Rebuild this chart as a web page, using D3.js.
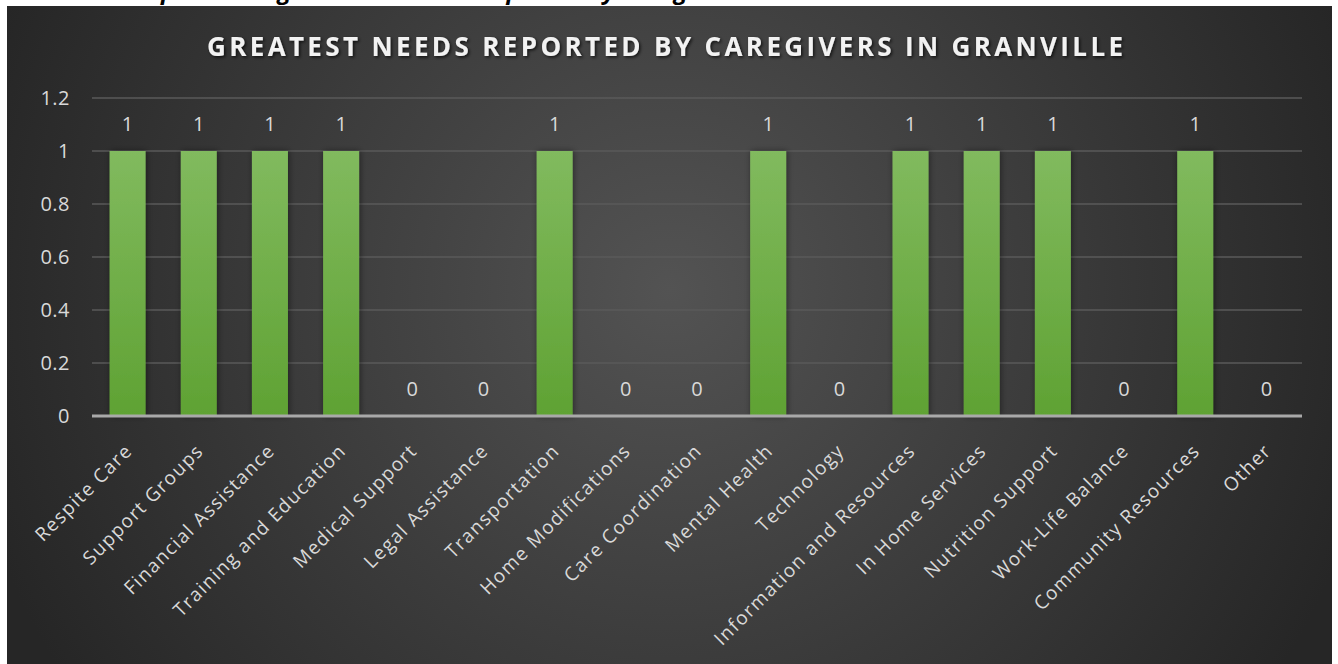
<!DOCTYPE html>
<html>
<head>
<meta charset="utf-8">
<script src="https://cdn.jsdelivr.net/npm/d3@7"></script>
<style>
  html, body { margin: 0; padding: 0; background: #fff; }
  svg { display: block; }
</style>
</head>
<body>
<svg id="chart" width="1338" height="664"></svg>
<script>
var categories = ["Respite Care", "Support Groups", "Financial Assistance", "Training and Education",
    "Medical Support", "Legal Assistance", "Transportation", "Home Modifications", "Care Coordination",
    "Mental Health", "Technology", "Information and Resources", "In Home Services", "Nutrition Support",
    "Work-Life Balance", "Community Resources", "Other"];
var values = [1, 1, 1, 1, 0, 0, 1, 0, 0, 1, 0, 1, 1, 1, 0, 1, 0];
var yTicks = [0, 0.2, 0.4, 0.6, 0.8, 1, 1.2];
var title = "GREATEST NEEDS REPORTED BY CAREGIVERS IN GRANVILLE";
var caption = "Graph Showing Greatest Needs Reported by Caregivers in Granville";

var svg = d3.select("#chart"),
    panel = { x: 7, y: 6, w: 1325, h: 658 },
    margin = { left: 92, right: 1302, top: 98, bottom: 416 },
    font = "'Open Sans', 'Liberation Sans', sans-serif";

var defs = svg.append("defs");

var bg = defs.append("radialGradient")
    .attr("id", "bg")
    .attr("gradientUnits", "userSpaceOnUse")
    .attr("cx", 670).attr("cy", 290).attr("r", 720);
bg.append("stop").attr("offset", "0%").attr("stop-color", "#535353");
bg.append("stop").attr("offset", "100%").attr("stop-color", "#262626");

var barFill = defs.append("linearGradient")
    .attr("id", "barFill")
    .attr("x1", 0).attr("y1", 0).attr("x2", 0).attr("y2", 1);
barFill.append("stop").attr("offset", "0%").attr("stop-color", "#81ba5e");
barFill.append("stop").attr("offset", "100%").attr("stop-color", "#5fa233");

defs.append("filter").attr("id", "barShadow")
    .attr("x", "-30%").attr("y", "-10%").attr("width", "160%").attr("height", "120%")
    .append("feDropShadow")
    .attr("dx", 1).attr("dy", 0).attr("stdDeviation", 3)
    .attr("flood-color", "#000").attr("flood-opacity", 0.45);

defs.append("filter").attr("id", "titleShadow")
    .append("feDropShadow")
    .attr("dx", 1.5).attr("dy", 1.5).attr("stdDeviation", 1.5)
    .attr("flood-color", "#000").attr("flood-opacity", 0.7);

// caption above the chart, cut off by the page edge as in the source
svg.append("text")
    .attr("x", 120)
    .attr("y", -1)
    .attr("font-family", font)
    .attr("font-size", 24)
    .attr("font-weight", "bold")
    .attr("font-style", "italic")
    .attr("fill", "#000")
    .text(caption);

svg.append("rect")
    .attr("x", panel.x).attr("y", panel.y)
    .attr("width", panel.w).attr("height", panel.h)
    .attr("fill", "url(#bg)");

var x = d3.scaleBand()
    .domain(categories)
    .range([margin.left, margin.right])
    .paddingInner(0.494)
    .paddingOuter(0.247);

var y = d3.scaleLinear()
    .domain([0, 1.2])
    .range([margin.bottom, margin.top]);

// gridlines
svg.append("g")
    .selectAll("line")
    .data(yTicks.filter(function (d) { return d > 0; }))
    .join("line")
    .attr("x1", margin.left)
    .attr("x2", margin.right)
    .attr("y1", function (d) { return y(d); })
    .attr("y2", function (d) { return y(d); })
    .attr("stroke", "#5a5a5a")
    .attr("stroke-width", 1.5);

// y axis labels
var yAxis = svg.append("g")
    .attr("transform", "translate(" + (margin.left - 22) + ",0)")
    .call(d3.axisLeft(y).tickValues(yTicks).tickSize(0).tickPadding(0)
        .tickFormat(function (d) { return String(d); }));
yAxis.select(".domain").remove();
yAxis.selectAll("text")
    .attr("font-family", font)
    .attr("font-size", 20)
    .attr("letter-spacing", 0.5)
    .attr("fill", "#d9d9d9");

// bars
svg.append("g")
    .selectAll("rect")
    .data(values)
    .join("rect")
    .attr("x", function (d, i) { return x(categories[i]); })
    .attr("y", function (d) { return y(d); })
    .attr("width", x.bandwidth())
    .attr("height", function (d) { return y(0) - y(d); })
    .attr("fill", "url(#barFill)")
    .attr("filter", "url(#barShadow)");

// x axis line
svg.append("line")
    .attr("x1", margin.left).attr("x2", margin.right)
    .attr("y1", y(0)).attr("y2", y(0))
    .attr("stroke", "#a9a9a9")
    .attr("stroke-width", 3);

// value labels
svg.append("g")
    .selectAll("text")
    .data(values)
    .join("text")
    .attr("x", function (d, i) { return x(categories[i]) + x.bandwidth() / 2; })
    .attr("y", function (d) { return y(d) - 20; })
    .attr("text-anchor", "middle")
    .attr("font-family", font)
    .attr("font-size", 20)
    .attr("fill", "#d9d9d9")
    .text(function (d) { return d; });

// category labels
svg.append("g")
    .selectAll("text")
    .data(categories)
    .join("text")
    .attr("transform", function (d) {
        return "translate(" + (x(d) + x.bandwidth() / 2 + 6) + "," + (y(0) + 36) + ") rotate(-45)";
    })
    .attr("text-anchor", "end")
    .attr("font-family", font)
    .attr("font-size", 19)
    .attr("letter-spacing", 1.4)
    .attr("fill", "#d9d9d9")
    .text(function (d) { return d; });

// title
svg.append("text")
    .attr("x", 665)
    .attr("y", 56)
    .attr("text-anchor", "middle")
    .attr("font-family", font)
    .attr("font-size", 26)
    .attr("font-weight", "bold")
    .attr("textLength", 916)
    .attr("lengthAdjust", "spacing")
    .attr("fill", "#f2f2f2")
    .attr("filter", "url(#titleShadow)")
    .text(title);
</script>
</body>
</html>
